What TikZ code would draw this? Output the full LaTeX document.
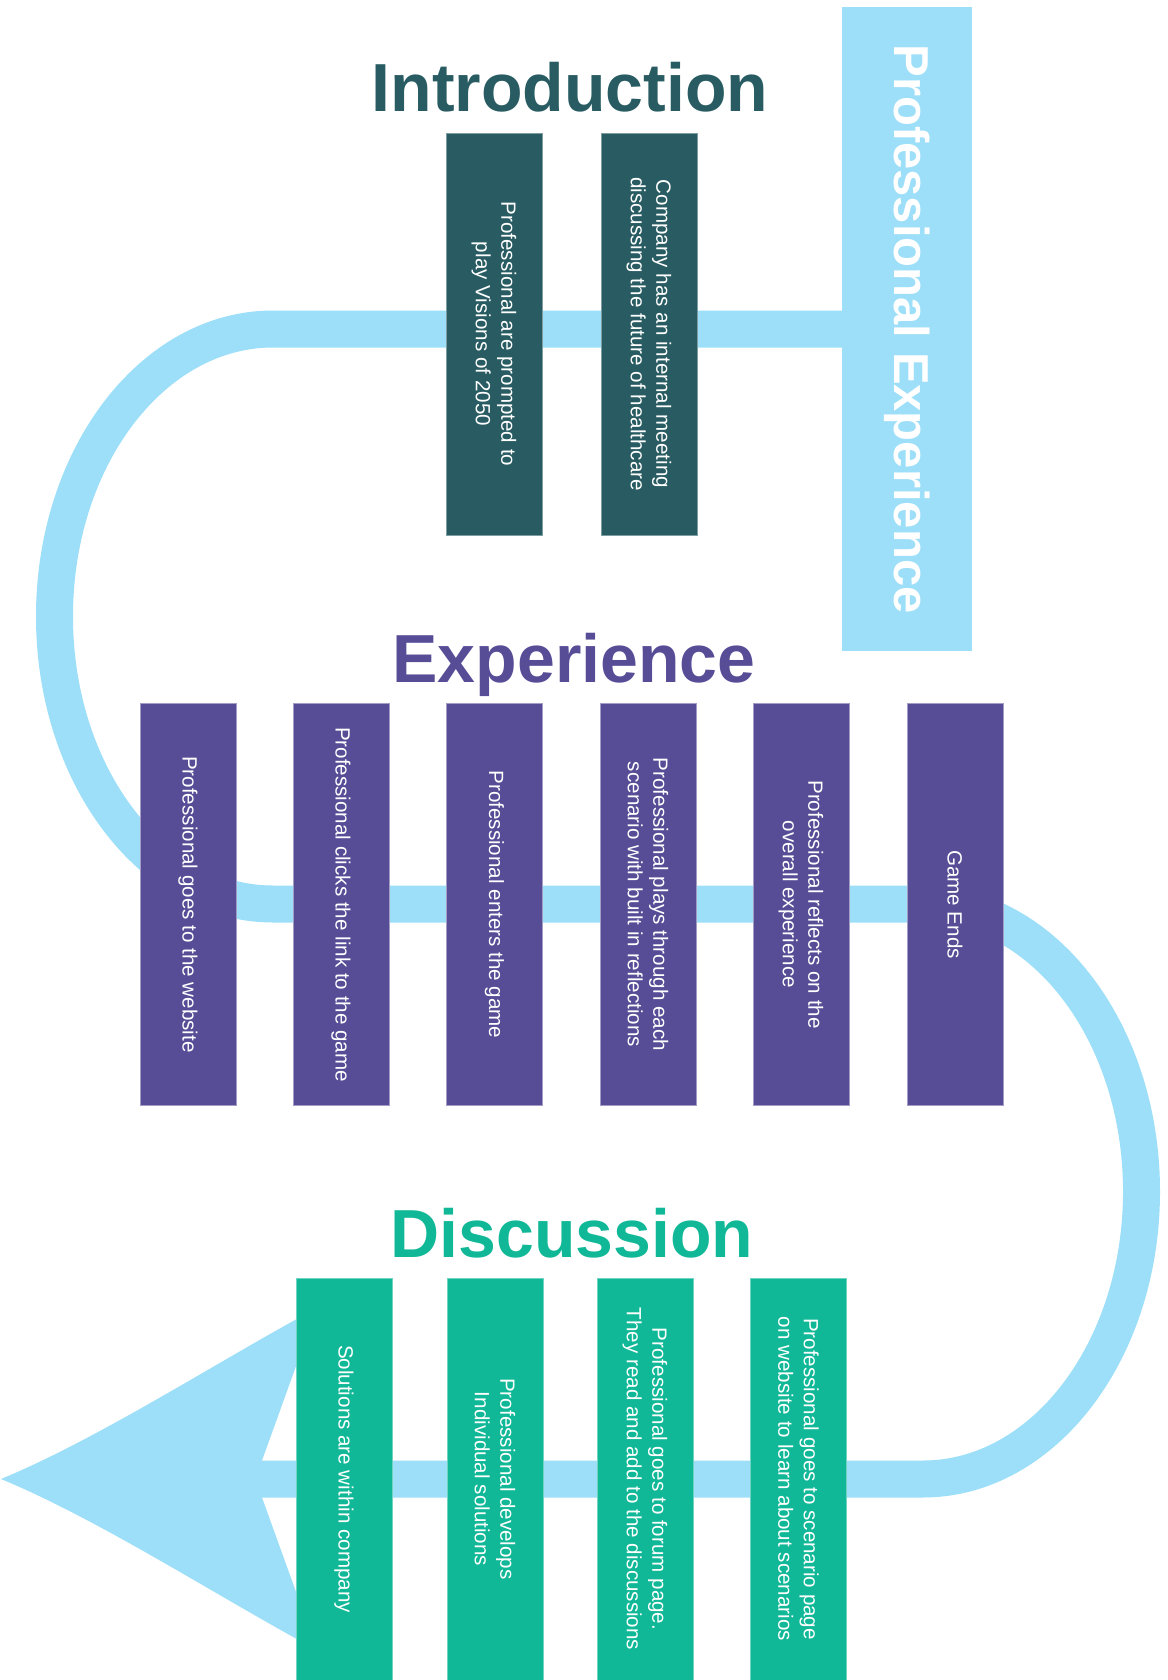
\documentclass[tikz,border=0pt]{standalone}
\usepackage{fontspec}
\setmainfont{Liberation Sans}
\usetikzlibrary{backgrounds}
\definecolor{bandblue}{RGB}{157,223,248}
\definecolor{introteal}{RGB}{40,92,98}
\definecolor{exppurple}{RGB}{87,76,150}
\definecolor{discgreen}{RGB}{16,184,151}
\begin{document}
\begin{tikzpicture}[x=0.5pt,y=0.5pt,
    card/.style={rotate=-90,minimum width=201pt,minimum height=48pt,inner sep=0pt,align=center,text=white,line width=0.4pt,font=\fontsize{10.3}{12.8}\selectfont},
    introcard/.style={card,fill=introteal,draw=introteal!60!white},
    expcard/.style={card,fill=exppurple,draw=exppurple!55!white},
    disccard/.style={card,fill=discgreen,draw=discgreen!60!white},
    sectiontitle/.style={anchor=base,font=\fontsize{34}{40}\selectfont\bfseries},
    band/.style={draw=bandblue,line width=18.5pt}
]
\useasboundingbox (0,0) rectangle (1167,-1680);
% banner
\node[rotate=-90,fill=bandblue,minimum width=321.5pt,minimum height=65pt,inner sep=0pt,text=white,font=\fontsize{24.5}{29}\selectfont\bfseries] (banner) at (907,-329) {Professional Experience};
% introduction
\node[sectiontitle,text=introteal] (introtitle) at (570,-112) {Introduction};
\node[introcard] (i1) at (494,-334) {Professional are prompted to\\play Visions of 2050};
\node[introcard] (i2) at (649,-334) {Company has an internal meeting\\discussing the future of healthcare};
% experience
\node[sectiontitle,text=exppurple] (exptitle) at (574,-682) {Experience};
\node[expcard] (e1) at (188,-904.5) {Professional goes to the website};
\node[expcard] (e2) at (341,-904.5) {Professional clicks the link to the game};
\node[expcard] (e3) at (494.5,-904.5) {Professional enters the game};
\node[expcard] (e4) at (648,-904.5) {Professional plays through each\\scenario with built in reflections};
\node[expcard] (e5) at (801,-904.5) {Professional reflects on the\\overall experience};
\node[expcard] (e6) at (955,-904.5) {Game Ends};
% discussion
\node[sectiontitle,text=discgreen] (disctitle) at (572,-1257) {Discussion};
\node[disccard] (d1) at (344,-1479) {Solutions are within company};
\node[disccard] (d2) at (495,-1479) {Professional develops\\Individual solutions};
\node[disccard] (d3) at (645,-1479) {Professional goes to forum page.\\They read and add to the discussions};
\node[disccard] (d4) at (798.5,-1479) {Professional goes to scenario page\\on website to learn about scenarios};
\coordinate (tip) at (1,-1479);
\coordinate (notch) at (262,-1479);
% winding path behind the cards
\begin{scope}[on background layer]
\draw[band] (banner.center) -- (273,-329)
    arc[start angle=90,end angle=270,x radius=218.5,y radius=287.5] -- (923,-904)
    arc[start angle=90,end angle=-90,x radius=218.5,y radius=287.5] -- (notch);
\fill[bandblue] (tip) .. controls (100,-1438) and (220,-1360) .. (317,-1308)
    -- (262,-1460.5) -- (262,-1497.5) -- (317,-1650)
    .. controls (220,-1598) and (100,-1520) .. (tip) -- cycle;
\end{scope}
\end{tikzpicture}
\end{document}
